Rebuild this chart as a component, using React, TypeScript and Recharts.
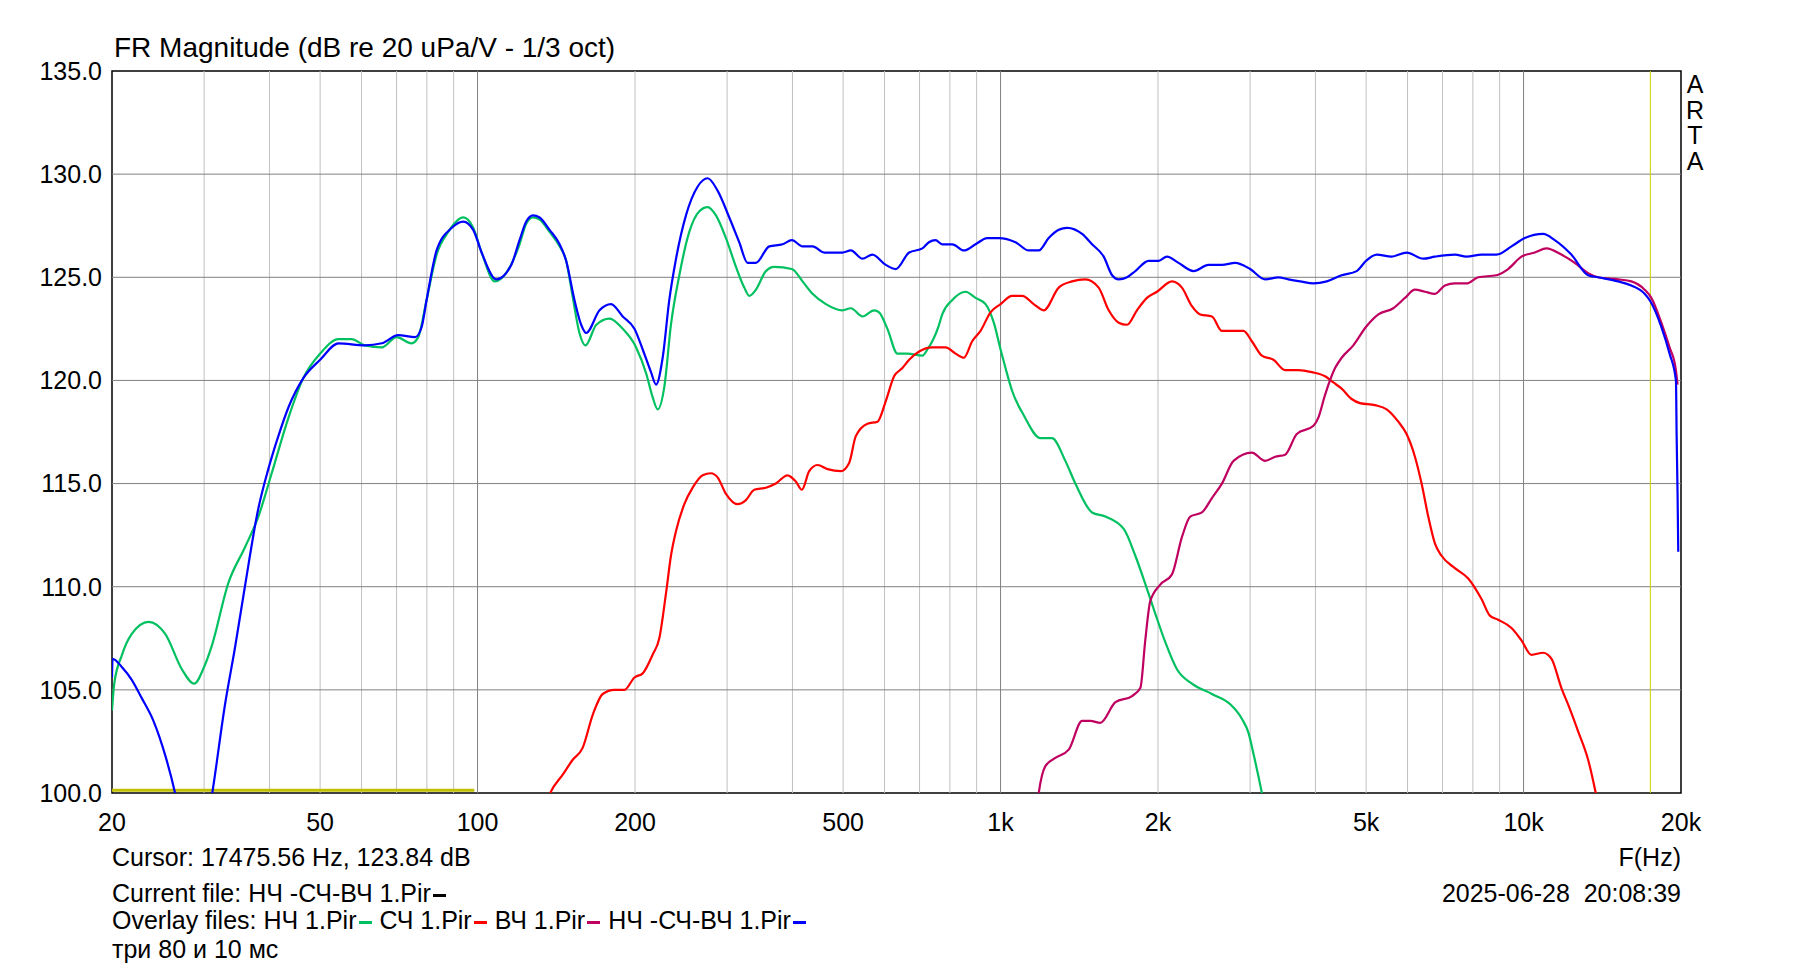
import { LineChart, Line, XAxis, YAxis, ReferenceLine, ReferenceArea } from 'recharts'

// frequency axis (Hz) and level axis (dB)
const xTicks = [20, 50, 100, 200, 500, 1000, 2000, 5000, 10000, 20000]
const xTickLabels = ['20', '50', '100', '200', '500', '1k', '2k', '5k', '10k', '20k']
const yTicks = [100, 105, 110, 115, 120, 125, 130, 135]
const minorGrid = [30, 40, 50, 60, 70, 80, 90, 200, 300, 400, 500, 600, 700, 800, 900,
  2000, 3000, 4000, 5000, 6000, 7000, 8000, 9000]
const majorGrid = [100, 1000, 10000]
const cursorFreq = 17475.56

// НЧ 1.Pir (green)
const lfFreq = [20, 20.2, 20.9, 21.8, 23.5, 25.3, 27.2, 28.7, 30.1, 31, 33.4, 35.9, 38.1, 40.4, 43.5,
  46.4, 50, 54.2, 57.4, 60.9, 65.6, 70, 74.8, 77, 79.9, 83.5, 87.9, 93.9, 98.1, 101.8, 107.9, 115.3,
  120.3, 123.9, 127.6, 131.4, 137.3, 143.5, 147.7, 151.9, 156.6, 160.8, 168.7, 178.8, 189.5, 201,
  210.3, 216.1, 221, 227.6, 234.3, 243.1, 254, 265.5, 275.4, 285.6, 298.5, 312, 323.6, 330.7, 340.6,
  355.9, 369.2, 399, 418.2, 437, 463.4, 498.5, 517.2, 544.4, 573.1, 585.9, 607.7, 635.1, 663.7, 708.9,
  724.6, 760.5, 773.5, 808.5, 857.1, 895.7, 935.9, 970.7, 1000, 1022, 1052, 1108, 1192, 1254, 1330,
  1390, 1496, 1586, 1720, 1810, 1905, 1976, 2066, 2174, 2322, 2536, 2749, 2893, 2980, 3045, 3160, 3300]
const lfDb = [104, 105.3, 106.7, 107.7, 108.3, 107.7, 106, 105.3, 106.2, 107.1, 110.2, 111.9, 113.4, 115.5, 118.2,
  120.1, 121.3, 122, 122, 121.7, 121.6, 122.1, 121.8, 122.1, 123.9, 126.1, 127.2, 127.9, 127.4, 126.2, 124.8, 125.5,
  126.6, 127.6, 127.9, 127.8, 127.2, 126.5, 125.8, 124.1, 122.3, 121.7, 122.7, 123, 122.5, 121.6,
  120.3, 119.2, 118.6, 119.7, 122.7, 125.1, 127.2, 128.2, 128.4, 128, 126.9, 125.5, 124.5, 124.1, 124.4,
  125.3, 125.5, 125.4, 124.8, 124.2, 123.7, 123.4, 123.5, 123.1, 123.4, 123.3, 122.5, 121.3, 121.3, 121.2,
  121.5, 122.6, 123.2, 123.9, 124.3, 124, 123.7, 122.8, 121.5, 120.6, 119.5, 118.3, 117.2, 117.2, 116.1,
  115, 113.6, 113.4, 112.8, 111.5, 109.9, 108.7, 107.3, 106, 105.3, 104.8, 104.3, 103.6, 102.9, 101.9, 100, 97.5]

// СЧ 1.Pir (red)
const midFreq = [130, 137.7, 145.6, 151.9, 158.9, 166.1, 173.5, 182.6, 190.9, 199.5, 206.9, 216.1, 222.6,
  229.3, 234.3, 239.6, 248.5, 257.8, 269.4, 279.4, 287.7, 298.5, 314.2, 325.9, 338.1, 355.9, 371.8, 391.4,
  406, 417, 430.6, 446.7, 466.9, 495, 513.4, 528.7, 556.6, 581.6, 603.3, 625.8, 649.1, 668.6, 698.7, 740.3,
  784.9, 820.1, 850.9, 882.6, 915.5, 956.7, 1000, 1052, 1100, 1157, 1209, 1292, 1370, 1453, 1540, 1610,
  1682, 1745, 1823, 1905, 1991, 2127, 2222, 2322, 2409, 2536, 2650, 2768, 2914, 3023, 3160, 3325, 3500,
  3712, 3937, 4174, 4329, 4490, 4691, 4867, 5199, 5473, 5761, 5975, 6199, 6383, 6573, 6768, 6970, 7391,
  7838, 8310, 8620, 8942, 9482, 9908, 10350, 10900, 11310, 11810, 12250, 12710, 13290, 13740, 14300]
const midDb = [98, 100, 100.9, 101.6, 102.2, 103.8, 104.8, 105, 105, 105.6, 105.8, 106.7, 107.5,
  109.7, 111.5, 112.7, 114, 114.8, 115.4, 115.5, 115.3, 114.5, 114, 114.2, 114.7, 114.8, 115, 115.4,
  115.1, 114.7, 115.6, 115.9, 115.7, 115.6, 116, 117.3, 117.9, 118, 119, 120.2, 120.6, 121, 121.4, 121.6,
  121.6, 121.3, 121.1, 121.9, 122.4, 123.3, 123.7, 124.1, 124.1, 123.7, 123.4, 124.5, 124.8, 124.9, 124.5, 123.4,
  122.8, 122.7, 123.4, 124, 124.3, 124.8, 124.5, 123.6, 123.2, 123.1, 122.4, 122.4, 122.4, 121.9, 121.2, 121, 120.5,
  120.5, 120.4, 120.2, 119.9, 119.6, 119.1, 118.9, 118.8, 118.6, 118, 117.4, 116.3, 115, 113.4, 112.1, 111.5, 110.9,
  110.4, 109.4, 108.6, 108.4, 108, 107.4, 106.7, 106.8, 106.5, 105.1, 104.1, 103, 101.6, 100, 97.5]

// ВЧ 1.Pir (crimson)
const hfFreq = [1150, 1183, 1218, 1273, 1350, 1432, 1485, 1551, 1658, 1784, 1851, 1891, 1933, 2020, 2127,
  2222, 2305, 2427, 2536, 2650, 2789, 3023, 3205, 3350, 3500, 3685, 3965, 4052, 4173, 4361, 4490, 4726,
  5000, 5277, 5635, 5932, 6199, 6477, 6768, 7073, 7391, 7779, 8189, 8876, 9343, 9908, 10510, 11060,
  11810, 12530, 13290, 13880, 15160, 16070, 17040, 17550, 18340, 19020, 19530, 19700]
const hfDb = [97, 100, 101.3, 101.7, 102.1, 103.5, 103.5, 103.4, 104.4, 104.7, 105.1, 107.4, 109.3, 110.1, 110.6,
  112.4, 113.4, 113.6, 114.3, 115, 116.1, 116.5, 116.1, 116.3, 116.4, 117.4, 117.8, 118.2, 119.3, 120.6, 121.1, 121.7,
  122.6, 123.2, 123.5, 124, 124.4, 124.3, 124.2, 124.6, 124.7, 124.7, 125, 125.1, 125.4, 126, 126.2, 126.4,
  126.1, 125.7, 125.2, 125, 124.9, 124.8, 124.4, 124, 122.8, 121.6, 120.6, 119.8]

// НЧ -СЧ-ВЧ 1.Pir (blue)
const sumFreq = [20, 20.05, 20.9, 21.8, 22.8, 24, 25.3, 26.4, 28.6, 31.1, 32.9, 34.4, 35.9, 38.1, 39.8,
  41.6, 43.5, 46.4, 50, 54.2, 60.9, 65.6, 70.5, 76, 78.2, 79.9, 83.5, 89.3, 93.9, 98.1, 101.8, 108.6, 116,
  120.3, 123.9, 127.6, 131.4, 137.3, 143.5, 147.7, 153.2, 157.8, 161.3, 171.1, 180, 189.5, 199.5, 206.9,
  214.6, 219.4, 225.9, 232.6, 239.6, 250.3, 263.6, 275.4, 287.7, 302.9, 316.5, 328.3, 340.6, 361.2, 383,
  399, 418.2, 437, 460, 498.5, 517.2, 544.4, 568.9, 603.3, 630.5, 668.6, 708.9, 729.5, 751, 773.5, 808.5,
  850.9, 895.7, 942.8, 992.4, 1068, 1132, 1183, 1236, 1292, 1341, 1432, 1496, 1575, 1634, 1682, 1745,
  1810, 1919, 2006, 2080, 2189, 2339, 2498, 2650, 2810, 3001, 3205, 3399, 3552, 3739, 3965, 4205, 4490,
  4796, 5000, 5239, 5594, 5975, 6431, 6768, 7391, 7779, 8310, 8876, 9482, 10055, 10900, 11470, 12340,
  13290, 13880, 15160, 16070, 17040, 17475.56, 18340, 19020, 19560, 19620, 19700, 19760]
const sumDb = [105.6, 106.5, 106.1, 105.5, 104.6, 103.5, 101.8, 100, 95, 100, 104.3, 107.1, 110, 113.8, 115.7,
  117.3, 118.7, 120.1, 121, 121.8, 121.7, 121.8, 122.2, 122.1, 122.6, 123.9, 126.3, 127.4, 127.7, 127.3, 126.2, 124.9, 125.6,
  126.8, 127.7, 128, 127.9, 127.3, 126.6, 125.8, 123.9, 122.7, 122.3, 123.4, 123.7, 123.1, 122.5, 121.5,
  120.4, 119.8, 121.1, 123.9, 125.9, 128, 129.4, 129.8, 129.2, 127.9, 126.7, 125.7, 125.7, 126.5, 126.6,
  126.8, 126.5, 126.5, 126.2, 126.2, 126.3, 125.9, 126.1, 125.6, 125.4, 126.2, 126.4, 126.7, 126.8, 126.6, 126.6,
  126.3, 126.6, 126.9, 126.9, 126.7, 126.3, 126.3, 126.9, 127.3, 127.4, 127.1, 126.6, 126, 125.1, 124.9, 125,
  125.3, 125.8, 125.8, 126, 125.7, 125.3, 125.6, 125.6, 125.7, 125.4, 124.9, 125, 124.9, 124.8, 124.7, 124.8, 125.1,
  125.3, 125.8, 126.1, 126, 126.2, 125.9, 126, 126.1, 126, 126.1, 126.1, 126.5, 126.9, 127.1, 126.8, 126.1,
  125.1, 125, 124.8, 124.6, 124.2, 123.84, 122.6, 121.3, 120, 117.3, 114.5, 111.7]

// reference marker at the bottom (20..100 Hz)
const markerFreq = [20, 98.6]
const markerDb = [100.13, 100.13]

const toPoints = (fs: number[], dbs: number[]) => fs.map((f, i) => ({ f, db: dbs[i] }))

const series = [
  { name: 'lf', color: '#00c060', data: toPoints(lfFreq, lfDb) },
  { name: 'mid', color: '#ff0000', data: toPoints(midFreq, midDb) },
  { name: 'hf', color: '#c00060', data: toPoints(hfFreq, hfDb) },
  { name: 'sum', color: '#0000ff', data: toPoints(sumFreq, sumDb) },
]

const FONT = '"Liberation Sans", Arial, sans-serif'

const Dash = ({ color }: { color: string }) => (
  <span style={{ display: 'inline-block', width: 13, height: 3, background: color, verticalAlign: 'middle', marginLeft: 2, marginRight: 1 }} />
)

const txt = (top: number): React.CSSProperties => ({
  position: 'absolute', left: 112, top, fontSize: 25, lineHeight: '25px', whiteSpace: 'pre', color: '#000',
})

export default function App() {
  return (
    <div style={{ position: 'fixed', left: 0, top: 0, width: 1793, height: 966, background: '#fff', fontFamily: FONT }}>
      <LineChart width={1793} height={966} margin={{ top: 71, right: 112, bottom: 143, left: 52 }}>
        <XAxis
          type="number"
          dataKey="f"
          scale="log"
          domain={[20, 20000]}
          allowDataOverflow
          ticks={xTicks}
          interval={0}
          tickFormatter={(v: number) => xTickLabels[xTicks.indexOf(v)] ?? ''}
          axisLine={false}
          tickLine={false}
          tickSize={0}
          tickMargin={20}
          height={30}
          tick={{ fill: '#000', fontSize: 25 }}
        />
        <YAxis
          type="number"
          domain={[100, 135]}
          allowDataOverflow
          ticks={yTicks}
          interval={0}
          tickFormatter={(v: number) => v.toFixed(1)}
          axisLine={false}
          tickLine={false}
          tickSize={0}
          tickMargin={10}
          width={60}
          tick={{ fill: '#000', fontSize: 25 }}
        />
        {minorGrid.map(f => (
          <ReferenceLine key={'m' + f} x={f} stroke="#c0c0c0" strokeWidth={1} />
        ))}
        {majorGrid.map(f => (
          <ReferenceLine key={'M' + f} x={f} stroke="#808080" strokeWidth={1} />
        ))}
        {yTicks.slice(1, -1).map(v => (
          <ReferenceLine key={'h' + v} y={v} stroke="#808080" strokeWidth={1} />
        ))}
        <ReferenceLine x={cursorFreq} stroke="#d0d000" strokeWidth={1} />
        <Line
          data={toPoints(markerFreq, markerDb)}
          dataKey="db"
          type="linear"
          stroke="#c0c000"
          strokeWidth={3}
          dot={false}
          isAnimationActive={false}
        />
        {series.map(s => (
          <Line
            key={s.name}
            data={s.data}
            dataKey="db"
            type="monotone"
            stroke={s.color}
            strokeWidth={2.2}
            dot={false}
            activeDot={false}
            isAnimationActive={false}
          />
        ))}
        <ReferenceArea x1={20} x2={20000} y1={100} y2={135} fill="none" stroke="#000" strokeWidth={1.5} />
      </LineChart>

      <div style={{ position: 'absolute', left: 114, top: 34, fontSize: 28, lineHeight: '28px', whiteSpace: 'pre' }}>
        FR Magnitude (dB re 20 uPa/V - 1/3 oct)
      </div>
      <div style={{ position: 'absolute', left: 1683, top: 72, width: 24, textAlign: 'center', fontSize: 25, lineHeight: '25.5px' }}>
        A<br />R<br />T<br />A
      </div>

      <div style={txt(845)}>Cursor: 17475.56 Hz, 123.84 dB</div>
      <div style={{ ...txt(845), left: undefined, right: 112 }}>F(Hz)</div>
      <div style={txt(881)}>Current file: НЧ -СЧ-ВЧ 1.Pir<Dash color="#000" /></div>
      <div style={{ ...txt(881), left: undefined, right: 112 }}>2025-06-28  20:08:39</div>
      <div style={txt(908)}>
        Overlay files: НЧ 1.Pir<Dash color="#00c060" /> СЧ 1.Pir<Dash color="#ff0000" /> ВЧ 1.Pir<Dash color="#c00060" /> НЧ -СЧ-ВЧ 1.Pir<Dash color="#0000ff" />
      </div>
      <div style={txt(937)}>три 80 и 10 мс</div>
    </div>
  )
}
